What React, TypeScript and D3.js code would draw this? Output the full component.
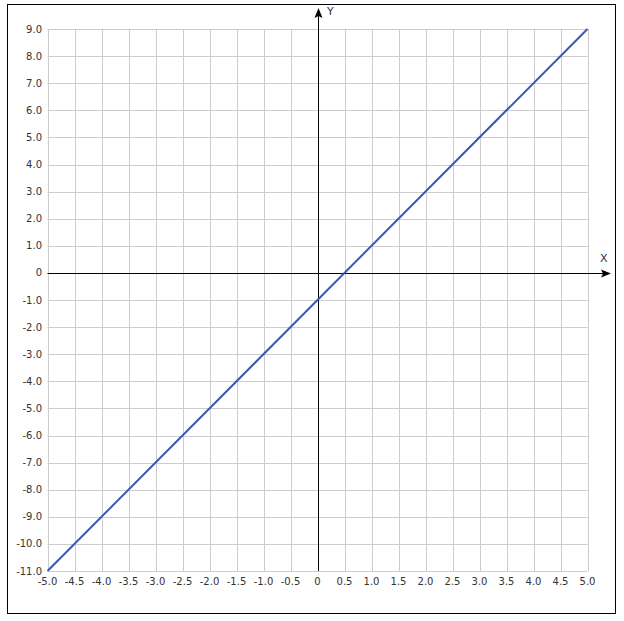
import React from 'react';
import * as d3 from 'd3';

// x tick values and labels along the bottom edge
const xTicks = [-5, -4.5, -4, -3.5, -3, -2.5, -2, -1.5, -1, -0.5, 0, 0.5, 1, 1.5, 2, 2.5, 3, 3.5, 4, 4.5, 5];
const xTickLabels = ['-5.0', '-4.5', '-4.0', '-3.5', '-3.0', '-2.5', '-2.0', '-1.5', '-1.0', '-0.5', '0', '0.5', '1.0', '1.5', '2.0', '2.5', '3.0', '3.5', '4.0', '4.5', '5.0'];

// y tick values and labels on the left edge
const yTicks = [9, 8, 7, 6, 5, 4, 3, 2, 1, 0, -1, -2, -3, -4, -5, -6, -7, -8, -9, -10, -11];
const yTickLabels = ['9.0', '8.0', '7.0', '6.0', '5.0', '4.0', '3.0', '2.0', '1.0', '0', '-1.0', '-2.0', '-3.0', '-4.0', '-5.0', '-6.0', '-7.0', '-8.0', '-9.0', '-10.0', '-11.0'];

// the plotted line y = 2x - 1, end points
const lineX = [-5, 5];
const lineY = [-11, 9];

const width = 624;
const height = 621;
const FONT = '"DejaVu Sans", Verdana, sans-serif';

const App: React.FC = () => {
  const x = d3.scaleLinear().domain([-5, 5]).range([47.5, 587.5]);
  const y = d3.scaleLinear().domain([-11, 9]).range([571, 29]);

  const pts: [number, number][] = lineX.map((v, i) => [x(v), y(lineY[i])]);
  const linePath = d3.line()(pts) || '';

  const ax = Math.round(x(0)) + 0.5;
  const ay = Math.round(y(0)) + 0.5;

  return (
    <div style={{ position: 'absolute', left: 0, top: 0, width, height, background: '#fff' }}>
      <svg width={width} height={height} style={{ display: 'block' }}>
        <rect x={7.5} y={4.5} width={608} height={609} fill="#fff" stroke="#000" strokeWidth={1} />

        {/* grid */}
        <g stroke="#cccccc" strokeWidth={1}>
          {xTicks.map(t => (
            <line key={'gx' + t} x1={Math.round(x(t)) + 0.5} x2={Math.round(x(t)) + 0.5} y1={y(9)} y2={y(-11)} />
          ))}
          {yTicks.map(t => (
            <line key={'gy' + t} y1={Math.round(y(t)) + 0.5} y2={Math.round(y(t)) + 0.5} x1={x(-5)} x2={x(5)} />
          ))}
        </g>

        {/* axes with arrows */}
        <g stroke="#000" strokeWidth={1}>
          <line x1={ax} x2={ax} y1={y(-11)} y2={12} />
          <line x1={x(-5)} x2={607} y1={ay} y2={ay} />
        </g>
        <path d={`M${ax},8 L${ax - 4},18 L${ax},16 L${ax + 4},18 Z`} fill="#000" />
        <path d={`M611,${ay} L601,${ay - 4} L603,${ay} L601,${ay + 4} Z`} fill="#000" />
        <text x={327} y={15} fontFamily={FONT} fontSize={11} fill="#333">Y</text>
        <text x={600} y={262} fontFamily={FONT} fontSize={11} fill="#333">X</text>

        {/* tick labels */}
        <g fontFamily={FONT} fontSize={10} fill="#333">
          {xTicks.map((t, i) => (
            <text key={'tx' + t} x={x(t)} y={585} textAnchor="middle">{xTickLabels[i]}</text>
          ))}
          {yTicks.map((t, i) => (
            <text key={'ty' + t} x={42} y={y(t) + 3.5} textAnchor="end">{yTickLabels[i]}</text>
          ))}
        </g>

        {/* line */}
        <path d={linePath} fill="none" stroke="#3a56b8" strokeWidth={2} />
      </svg>
    </div>
  );
};

export default App;
